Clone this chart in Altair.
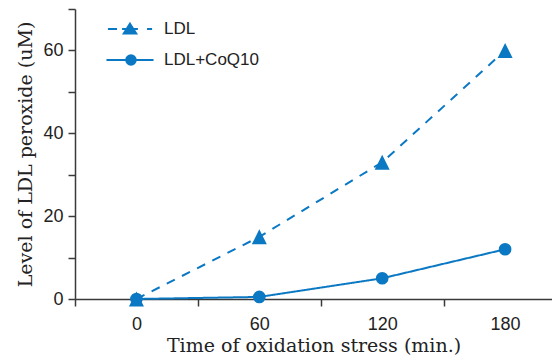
import altair as alt
import pandas as pd

# ---- data ----
time_min = [0, 60, 120, 180]
ldl = [0, 15, 33, 60]
ldl_coq10 = [0, 0.5, 5, 12]
series_names = ["LDL", "LDL+CoQ10"]

rows = []
for t, v in zip(time_min, ldl_coq10):
    rows.append({"time": t, "value": v, "series": "LDL+CoQ10"})
for t, v in zip(time_min, ldl):
    rows.append({"time": t, "value": v, "series": "LDL"})
df = pd.DataFrame(rows)

BLUE = "#0b78c4"
AXIS = "#3a3a3a"
SANS = "Liberation Sans"
SERIF = "DejaVu Serif"

# custom symbol paths (unit coordinates)
TRI = "M0,-1 L1,1 L-1,1 Z"
K = 24.0 / 21.0  # legend symbol path scale (symbol drawn at sqrt(size)/2 = 21 px per unit)


def f(v):
    return f"{v * K:.4f}"


def circle_path(r, cx=0.0):
    k = 0.5523 * r
    return (f"M{f(cx + r)},0 C{f(cx + r)},{f(k)} {f(cx + k)},{f(r)} {f(cx)},{f(r)} "
            f"C{f(cx - k)},{f(r)} {f(cx - r)},{f(k)} {f(cx - r)},0 "
            f"C{f(cx - r)},{f(-k)} {f(cx - k)},{f(-r)} {f(cx)},{f(-r)} "
            f"C{f(cx + k)},{f(-r)} {f(cx + r)},{f(-k)} {f(cx + r)},0 Z ")


def solid_disc(R, cx=0.0, sw=0.083):
    # a filled-looking disc made of concentric outlines (stroke only)
    out = ""
    r = R - sw / 2
    while r > 0.01:
        out += circle_path(r, cx)
        r -= 0.065
    return out


def solid_triangle(hw, top, bottom):
    # filled-looking triangle made of nested outlines (stroke only)
    cy = (top + 2 * bottom) / 3.0
    out = ""
    s = 1.0
    while s > 0.05:
        t_y = cy + (top - cy) * s
        b_y = cy + (bottom - cy) * s
        w = hw * s
        out += f"M0,{f(t_y)} L{f(w)},{f(b_y)} L{f(-w)},{f(b_y)} Z "
        s -= 0.22
    return out


def hseg(a, b):
    return f"M{f(a)},0 H{f(b)} "


LEG_DASH_TRI = (hseg(-0.92, -0.54) + hseg(-0.33, 0.33) + hseg(0.71, 0.92)
                + solid_triangle(0.26, -0.22, 0.19))
LEG_LINE_CIRC = hseg(-0.98, 0.98) + solid_disc(0.24, 0.04)

x_scale = alt.Scale(domain=[-30, 202.9], nice=False, zero=False)
y_scale = alt.Scale(domain=[0, 70], nice=False, zero=True)

x_axis = alt.Axis(
    values=[-30, 0, 30, 60, 90, 120, 150, 180],
    labelExpr="datum.value % 60 === 0 ? datum.label : ''",
    tickOpacity=alt.condition("datum.value % 60 === 0", alt.value(0), alt.value(1)),
    title="Time of oxidation stress (min.)",
    grid=False, tickSize=7, labelPadding=9, titlePadding=3,
    titleFontSize=19,
)
y_axis = alt.Axis(
    values=list(range(0, 71, 10)),
    labelExpr="datum.value % 20 === 0 ? datum.label : ''",
    title="Level of LDL peroxide (uM)",
    grid=False, tickSize=7, labelPadding=5, titlePadding=7,
    titleFontSize=19,
)

X = alt.X("time:Q", scale=x_scale, axis=x_axis)
Y = alt.Y("value:Q", scale=y_scale, axis=y_axis)

base = alt.Chart(df)

lines = base.mark_line(color=BLUE, strokeWidth=2).encode(
    x=X, y=Y,
    detail="series:N",
    strokeDash=alt.StrokeDash(
        "series:N",
        scale=alt.Scale(domain=series_names, range=[[9, 8], [1, 0]]),
        legend=None,
    ),
)

points = base.mark_point(filled=True, color=BLUE, opacity=1).encode(
    x=X, y=Y,
    shape=alt.Shape("series:N",
                    scale=alt.Scale(domain=series_names, range=[TRI, "circle"]),
                    legend=None),
    size=alt.Size("series:N",
                  scale=alt.Scale(domain=series_names, range=[225, 160]),
                  legend=None),
)

legend_layer = base.mark_point(
    filled=False, color=BLUE, strokeWidth=2, opacity=0
).encode(
    x=X, y=Y,
    shape=alt.Shape(
        "series:N",
        scale=alt.Scale(domain=series_names, range=[LEG_DASH_TRI, LEG_LINE_CIRC]),
        legend=alt.Legend(
            title=None, orient="none", legendX=33, legendY=-2,
            symbolSize=1764, symbolOpacity=1,
            symbolStrokeColor=BLUE, symbolStrokeWidth=2,
            labelFont=SANS, labelFontSize=17, labelColor="#222",
            labelOffset=12, rowPadding=-11, padding=0,
        ),
    ),
)

chart = alt.layer(lines, points, legend_layer).resolve_scale(
    shape="independent", size="independent"
).properties(
    width=477, height=290,
    autosize=alt.AutoSizeParams(type="none"),
    padding={"left": 67, "top": 1, "right": 0, "bottom": 57},
).configure_view(stroke=None).configure_axis(
    domainColor=AXIS, domainWidth=1.5, tickColor=AXIS, tickWidth=1.5,
    labelFont=SANS, labelFontSize=18, labelColor="#222",
    titleFont=SERIF, titleFontWeight="normal", titleColor="#222",
)

chart.save("out.html", embed_options={"renderer": "svg", "actions": False})
